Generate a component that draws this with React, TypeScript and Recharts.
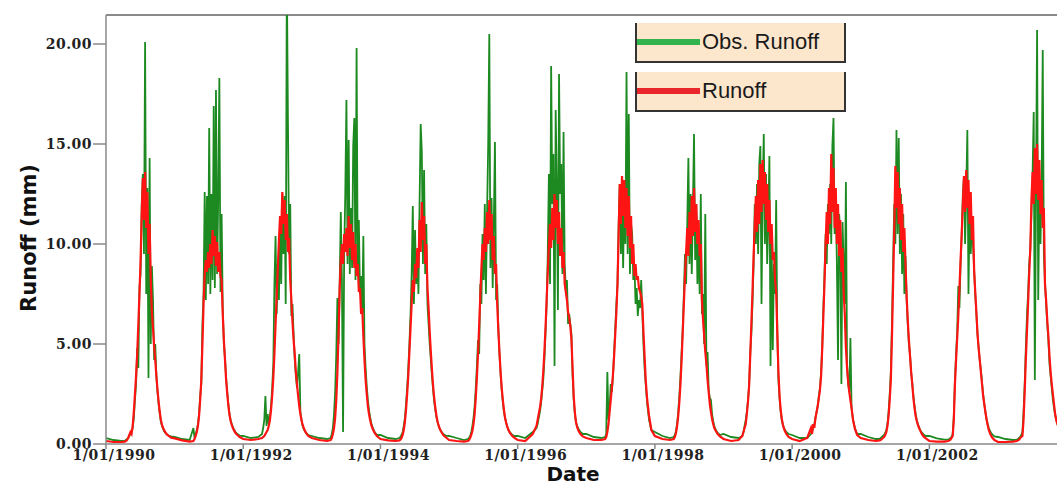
import { Label, Legend, Line, LineChart, ReferenceLine, XAxis, YAxis } from "recharts";

// Runoff series, sampled on the same day-of-year grid every year
const years = [1990, 1991, 1992, 1993, 1994, 1995, 1996, 1997, 1998, 1999, 2000, 2001, 2002, 2003];

const sampleDays = [
  0, 40, 80, 100, 106, 112, 118, 124, 130, 136, 142, 148, 154, 160, 166, 172, 178, 184, 190, 196, 202,
  208, 214, 220, 226, 232, 238, 244, 250, 256, 262, 268, 274, 280, 286, 292, 298, 304, 310, 316, 324,
  334, 346,
];

// observed runoff (mm), one row per year
const obsRunoff = [
  [0.3, 0.2, 0.15, 0.15, 0.2, 0.25, 0.3, 0.4, 0.5, 0.6, 0.8, 1.3, 2.2, 3.0, 4.8, 3.8, 7.8, 8.5, 12.0, 13.5, 9.5, 20.1, 7.5, 12.8, 3.3, 14.3, 5.0, 8.9, 7.2, 4.2, 5.0, 3.4, 2.6, 2.0, 1.5, 1.1, 0.9, 0.75, 0.62, 0.55, 0.48, 0.42, 0.38],
  [0.35, 0.25, 0.2, 0.8, 0.3, 0.5, 0.7, 1.0, 1.5, 2.4, 3.0, 6.0, 7.5, 12.6, 7.2, 12.4, 8.0, 15.8, 7.5, 12.5, 8.2, 16.9, 7.8, 17.7, 8.5, 12.3, 18.3, 7.6, 11.5, 6.8, 5.0, 4.3, 3.3, 2.6, 2.0, 1.5, 1.2, 1.0, 0.85, 0.72, 0.6, 0.5, 0.42],
  [0.4, 0.3, 0.35, 0.5, 0.8, 1.2, 2.4, 0.9, 1.5, 1.0, 1.4, 1.9, 2.8, 4.0, 8.0, 10.4, 6.5, 9.0, 7.2, 11.0, 8.0, 12.5, 9.5, 12.4, 7.0, 23.5, 16.0, 9.5, 12.0, 6.4, 7.0, 5.5, 4.2, 3.4, 2.8, 3.6, 4.5, 1.6, 1.2, 0.9, 0.7, 0.55, 0.45],
  [0.4, 0.3, 0.25, 0.3, 0.5, 0.8, 1.5, 2.6, 4.5, 7.3, 5.0, 8.0, 11.6, 8.2, 0.6, 9.5, 12.6, 17.2, 9.0, 15.2, 8.5, 11.8, 8.8, 14.9, 16.3, 8.2, 19.8, 8.6, 11.2, 7.5, 8.4, 6.5, 10.4, 5.0, 3.8, 2.9, 2.2, 1.7, 1.35, 1.05, 0.8, 0.6, 0.45],
  [0.45, 0.3, 0.25, 0.3, 0.35, 0.45, 0.6, 0.9, 1.3, 2.0, 2.8, 3.8, 5.0, 6.5, 8.5, 11.9, 7.0, 10.7, 8.0, 9.5, 7.5, 12.0, 16.0, 14.6, 9.0, 13.7, 8.5, 11.0, 7.0, 6.0, 5.0, 4.2, 3.4, 2.7, 2.1, 1.7, 1.35, 1.1, 0.9, 0.75, 0.62, 0.5, 0.42],
  [0.4, 0.3, 0.2, 0.25, 0.3, 0.4, 0.6, 0.9, 1.3, 1.9, 2.8, 3.9, 5.2, 4.5, 8.0, 7.0, 10.5, 8.2, 12.0, 7.5, 11.5, 14.9, 20.5, 8.8, 12.3, 7.8, 11.0, 15.1, 7.2, 8.0, 5.8, 4.5, 3.5, 2.7, 2.1, 1.6, 1.3, 1.05, 0.85, 0.7, 0.58, 0.48, 0.4],
  [0.4, 0.3, 0.6, 0.8, 1.0, 1.3, 1.6, 2.0, 2.6, 3.2, 4.2, 5.5, 7.0, 9.5, 13.5, 8.0, 18.9, 12.0, 14.5, 3.9, 16.7, 13.0, 6.7, 18.5, 12.5, 14.0, 8.5, 15.6, 9.0, 7.7, 8.2, 6.0, 6.5, 6.0, 5.5, 3.4, 2.2, 1.5, 1.1, 0.9, 0.75, 0.6, 0.5],
  [0.5, 0.35, 0.3, 0.35, 0.5, 3.6, 1.2, 1.8, 3.0, 2.6, 3.4, 4.6, 5.8, 7.0, 8.0, 11.0, 13.0, 9.5, 12.0, 8.8, 13.0, 10.0, 18.6, 9.5, 16.5, 8.5, 11.0, 10.5, 8.2, 9.0, 7.0, 7.8, 6.4, 7.2, 6.8, 8.2, 6.6, 5.0, 3.8, 3.0, 2.0, 1.2, 0.7],
  [0.6, 0.4, 0.3, 0.35, 0.45, 0.65, 1.0, 1.6, 2.4, 3.4, 4.6, 5.8, 7.5, 9.5, 8.0, 11.0, 14.3, 9.0, 12.5, 8.5, 11.8, 15.5, 9.2, 12.0, 8.0, 10.5, 7.5, 12.5, 6.5, 7.5, 5.0, 11.5, 3.9, 4.6, 2.7, 2.3, 2.2, 1.5, 1.15, 0.9, 0.7, 0.55, 0.45],
  [0.5, 0.35, 0.3, 0.4, 0.6, 0.9, 1.2, 1.6, 2.2, 2.9, 4.5, 5.5, 7.0, 9.0, 12.0, 10.0, 13.0, 9.5, 14.0, 14.9, 7.0, 12.5, 15.5, 10.0, 13.5, 9.0, 11.0, 14.4, 3.9, 10.0, 4.7, 9.0, 7.5, 12.2, 5.5, 3.2, 2.3, 1.6, 1.2, 0.95, 0.75, 0.6, 0.5],
  [0.45, 0.3, 0.3, 0.5, 0.6, 0.8, 1.0, 1.3, 1.6, 1.9, 2.4, 2.8, 3.6, 4.8, 6.8, 8.5, 10.5, 9.0, 12.0, 10.5, 13.0, 10.0, 14.9, 16.3, 10.5, 12.5, 9.0, 4.2, 11.5, 10.5, 3.0, 11.1, 9.0, 7.0, 13.1, 4.0, 3.0, 2.6, 5.3, 1.8, 1.2, 0.8, 0.5],
  [0.5, 0.35, 0.25, 0.25, 0.3, 0.35, 0.4, 0.45, 0.55, 0.7, 1.0, 1.6, 2.5, 3.6, 6.0, 9.0, 12.0, 10.0, 15.7, 10.5, 15.3, 9.5, 12.5, 8.5, 11.5, 7.5, 9.4, 7.2, 6.0, 5.0, 4.5, 3.6, 3.0, 2.4, 1.9, 1.5, 1.2, 1.0, 0.85, 0.7, 0.58, 0.48, 0.4],
  [0.4, 0.28, 0.22, 0.22, 0.25, 0.3, 0.35, 0.5, 1.4, 3.2, 4.5, 5.6, 7.9, 6.8, 9.0, 10.5, 12.5, 13.4, 10.0, 12.5, 15.7, 7.5, 12.0, 9.5, 11.0, 10.0, 8.7, 7.5, 6.5, 5.5, 4.8, 4.2, 3.7, 3.1, 2.5, 2.0, 1.6, 1.25, 1.0, 0.8, 0.62, 0.48, 0.38],
  [0.35, 0.25, 0.2, 0.22, 0.25, 0.3, 0.35, 0.45, 0.6, 1.6, 3.0, 4.8, 6.4, 7.5, 9.0, 9.7, 11.5, 13.5, 16.6, 3.2, 12.5, 20.7, 7.2, 12.5, 10.0, 13.0, 19.7, 9.5, 8.0, 7.0, 6.0, 5.2, 4.0, 3.4, 2.8, 2.2, 1.8, 1.45, 1.2, 1.0, 0.8, 0.62, 0.5],
];

// simulated runoff (mm), one row per year
const simRunoff = [
  [0.15, 0.1, 0.1, 0.12, 0.15, 0.2, 0.3, 0.45, 0.6, 0.5, 0.9, 1.6, 2.5, 3.4, 4.5, 6.0, 7.5, 9.2, 11.5, 13.3, 11.2, 13.6, 10.8, 12.6, 9.5, 11.0, 8.2, 6.6, 5.8, 4.9, 4.2, 3.4, 2.7, 2.1, 1.6, 1.2, 0.95, 0.8, 0.68, 0.58, 0.48, 0.4, 0.32],
  [0.28, 0.18, 0.12, 0.15, 0.25, 0.4, 0.6, 0.9, 1.4, 2.2, 3.2, 5.0, 7.0, 8.5, 9.2, 8.6, 9.6, 8.8, 10.0, 9.0, 10.7, 9.4, 10.4, 8.9, 10.1, 8.6, 9.6, 8.4, 8.2, 6.5, 5.2, 4.2, 3.2, 2.5, 1.9, 1.45, 1.15, 0.95, 0.8, 0.68, 0.55, 0.45, 0.35],
  [0.25, 0.2, 0.25, 0.3, 0.35, 0.4, 0.5, 0.6, 0.7, 0.9, 1.2, 1.7, 2.4, 3.3, 4.5, 6.0, 7.4, 8.8, 10.2, 11.4, 10.5, 12.6, 11.0, 12.2, 10.2, 11.5, 9.6, 10.3, 8.2, 7.2, 6.1, 5.2, 4.5, 3.6, 3.0, 2.4, 1.9, 1.5, 1.2, 0.95, 0.75, 0.55, 0.4],
  [0.3, 0.2, 0.15, 0.2, 0.3, 0.5, 0.8, 1.3, 2.2, 3.6, 5.5, 7.8, 9.2, 10.0, 9.0, 10.5, 9.6, 10.8, 9.4, 11.4, 9.8, 11.0, 9.2, 10.6, 8.8, 10.0, 8.4, 9.0, 7.6, 7.8, 6.5, 6.8, 5.4, 4.2, 3.2, 2.5, 1.9, 1.5, 1.2, 0.95, 0.75, 0.55, 0.4],
  [0.25, 0.18, 0.15, 0.18, 0.22, 0.3, 0.45, 0.7, 1.1, 1.7, 2.5, 3.4, 4.6, 5.8, 7.0, 8.2, 7.6, 9.0, 8.3, 9.8, 8.8, 11.2, 9.6, 12.1, 10.2, 11.4, 9.0, 10.0, 7.8, 6.8, 5.6, 4.6, 3.7, 2.9, 2.3, 1.8, 1.4, 1.1, 0.9, 0.75, 0.6, 0.45, 0.35],
  [0.2, 0.15, 0.12, 0.15, 0.2, 0.3, 0.45, 0.65, 1.0, 1.5, 2.3, 3.3, 4.5, 5.9, 7.4, 8.8, 10.0, 9.2, 10.8, 9.6, 11.6, 10.0, 12.2, 10.2, 11.5, 9.2, 10.4, 8.5, 9.0, 7.0, 5.7, 4.6, 3.6, 2.8, 2.2, 1.7, 1.3, 1.05, 0.85, 0.7, 0.55, 0.42, 0.32],
  [0.2, 0.15, 0.5, 0.9, 1.2, 1.5, 1.8, 2.2, 2.8, 3.6, 4.6, 5.8, 7.2, 8.6, 9.9, 11.0, 9.8, 11.8, 10.2, 12.5, 10.8, 12.2, 10.0, 11.6, 9.4, 10.8, 8.8, 9.6, 8.0, 7.6, 7.2, 6.6, 6.3, 5.9, 5.2, 3.8, 2.4, 1.6, 1.1, 0.85, 0.65, 0.5, 0.38],
  [0.3, 0.2, 0.2, 0.25, 0.35, 0.6, 1.0, 1.6, 2.2, 2.8, 3.5, 4.4, 5.5, 6.6, 8.0, 10.5, 13.0, 11.0, 13.4, 11.4, 13.2, 10.8, 12.8, 10.4, 12.4, 9.8, 11.4, 9.0, 10.0, 8.4, 9.0, 8.2, 8.4, 7.8, 7.6, 7.4, 7.0, 5.6, 4.4, 3.2, 2.2, 1.4, 0.7],
  [0.4, 0.25, 0.2, 0.25, 0.35, 0.55, 0.9, 1.4, 2.1, 3.0, 4.2, 5.6, 7.0, 8.4, 9.6, 10.8, 9.4, 11.6, 10.0, 12.4, 10.4, 12.8, 10.6, 12.0, 10.0, 11.2, 9.4, 10.0, 7.2, 6.2, 5.4, 4.6, 4.0, 3.2, 2.6, 2.0, 1.6, 1.25, 1.0, 0.8, 0.65, 0.5, 0.38],
  [0.25, 0.15, 0.2, 0.4, 0.6, 0.8, 1.0, 1.5, 2.1, 2.9, 4.4, 6.0, 7.6, 9.4, 11.0, 12.4, 10.6, 13.2, 11.0, 14.0, 11.6, 14.2, 12.0, 13.6, 11.2, 13.0, 10.6, 12.2, 10.0, 11.0, 9.2, 9.6, 8.2, 7.6, 5.6, 3.6, 2.4, 1.7, 1.25, 0.95, 0.7, 0.5, 0.35],
  [0.25, 0.15, 0.3, 0.8, 0.5, 1.0, 0.8, 1.3, 1.6, 1.9, 2.3, 2.7, 3.4, 4.8, 6.4, 8.0, 10.0, 11.6, 10.0, 12.8, 11.0, 14.5, 11.6, 13.8, 10.8, 12.8, 10.0, 12.0, 9.4, 11.2, 8.6, 9.8, 7.6, 6.5, 4.8, 3.8, 3.1, 2.6, 2.2, 1.8, 1.2, 0.75, 0.45],
  [0.3, 0.2, 0.15, 0.18, 0.2, 0.25, 0.3, 0.35, 0.45, 0.6, 0.9, 1.4, 2.2, 3.2, 5.4, 8.0, 10.6, 13.9, 11.8, 13.6, 11.0, 12.8, 10.2, 12.0, 9.6, 10.8, 9.0, 7.4, 6.2, 5.2, 4.4, 3.6, 3.0, 2.3, 1.8, 1.4, 1.15, 0.95, 0.8, 0.68, 0.52, 0.38, 0.28],
  [0.15, 0.12, 0.12, 0.15, 0.18, 0.22, 0.3, 0.4, 1.2, 3.0, 4.2, 5.3, 6.4, 7.8, 9.2, 10.5, 12.0, 13.4, 11.6, 13.7, 11.8, 13.2, 11.0, 12.6, 10.2, 11.4, 8.7, 7.6, 6.6, 5.5, 4.8, 4.2, 3.6, 3.0, 2.4, 2.0, 1.6, 1.25, 0.95, 0.7, 0.5, 0.32, 0.2],
  [0.1, 0.1, 0.12, 0.15, 0.18, 0.22, 0.3, 0.35, 0.4, 1.2, 2.6, 4.2, 5.6, 7.0, 8.5, 9.8, 12.2, 13.6, 12.0, 14.8, 12.5, 15.0, 12.2, 14.2, 11.5, 13.2, 10.8, 11.8, 8.0, 7.2, 6.2, 5.4, 4.4, 3.6, 3.0, 2.5, 2.0, 1.5, 1.2, 1.0, 0.8, 0.6, 0.45],
];

const dateTicks = [1990, 1992, 1994, 1996, 1998, 2000, 2002];
const runoffTicks = [0, 5, 10, 15, 20];

const rows = years.flatMap((year, y) =>
  sampleDays.map((day, i) => ({
    t: year + day / 365,
    obs: obsRunoff[y][i],
    sim: simRunoff[y][i],
  }))
);

const X_END = 2003.86;
const Y_TOP = 21.45;

const tickFont = {
  fontFamily: "DejaVu Serif",
  fontWeight: 700,
  fontSize: 14,
  letterSpacing: 0.5,
  fill: "#222",
};

const swatch: Record<string, string> = {
  "Obs. Runoff": "#33b34d",
  Runoff: "#e8262b",
};

function DateTick({ x, y, payload }: any) {
  return (
    <text x={x + 8} y={y} dy="0.71em" textAnchor="middle" {...tickFont}>
      {`1/01/${payload.value}`}
    </text>
  );
}

function LegendBoxes({ payload }: any) {
  return (
    <div>
      {(payload || []).map((entry: any, i: number) => (
        <div
          key={entry.value}
          style={{
            width: 207,
            height: 38,
            marginBottom: i === 0 ? 9 : 0,
            background: "#fce6cc",
            borderLeft: "2px solid #333",
            borderRight: "2px solid #333",
            borderBottom: "2px solid #333",
            display: "flex",
            alignItems: "center",
            fontFamily: "Liberation Sans, Arial, sans-serif",
            fontSize: 22,
            color: "#1a1a1a",
          }}
        >
          <span
            style={{
              display: "inline-block",
              width: 63,
              height: 6,
              background: swatch[entry.value],
              marginRight: 2,
            }}
          />
          {entry.value}
        </div>
      ))}
    </div>
  );
}

export default function App() {
  return (
    <>
      <style>{"body{margin:0}"}</style>
      <LineChart width={1057} height={486} data={rows} margin={{ top: 15, right: 0, bottom: 0, left: 0 }}>
        <XAxis
          type="number"
          dataKey="t"
          domain={[1990, X_END]}
          allowDataOverflow
          ticks={dateTicks}
          tick={<DateTick />}
          tickSize={5}
          tickMargin={1}
          height={42}
          stroke="#888"
          strokeWidth={1.5}
        >
          <Label
            content={() => (
              <text
                x={573}
                y={481}
                textAnchor="middle"
                fontFamily="DejaVu Sans"
                fontWeight={700}
                fontSize={20}
                fill="#111"
              >
                Date
              </text>
            )}
          />
        </XAxis>
        <YAxis
          type="number"
          domain={[0, Y_TOP]}
          allowDataOverflow
          ticks={runoffTicks}
          tickFormatter={(v: number) => v.toFixed(2)}
          tick={tickFont}
          tickSize={13}
          tickMargin={1}
          width={106}
          stroke="#888"
          strokeWidth={1.5}
        >
          <Label
            content={() => (
              <text
                x={29}
                y={238}
                transform="rotate(-90 29 238)"
                textAnchor="middle"
                dominantBaseline="central"
                fontFamily="DejaVu Sans"
                fontWeight={700}
                fontSize={21}
                fill="#111"
              >
                Runoff (mm)
              </text>
            )}
          />
        </YAxis>
        <ReferenceLine y={Y_TOP} stroke="#8a8a8a" strokeWidth={2} />
        <Line
          type="linear"
          dataKey="obs"
          name="Obs. Runoff"
          stroke="#1d8a21"
          strokeWidth={1.8}
          dot={false}
          activeDot={false}
          isAnimationActive={false}
        />
        <Line
          type="linear"
          dataKey="sim"
          name="Runoff"
          stroke="#ff1414"
          strokeWidth={2.2}
          dot={false}
          activeDot={false}
          isAnimationActive={false}
        />
        <Legend
          layout="vertical"
          align="center"
          verticalAlign="middle"
          content={<LegendBoxes />}
          wrapperStyle={{ left: 635, top: 23, width: 211 }}
        />
      </LineChart>
    </>
  );
}
